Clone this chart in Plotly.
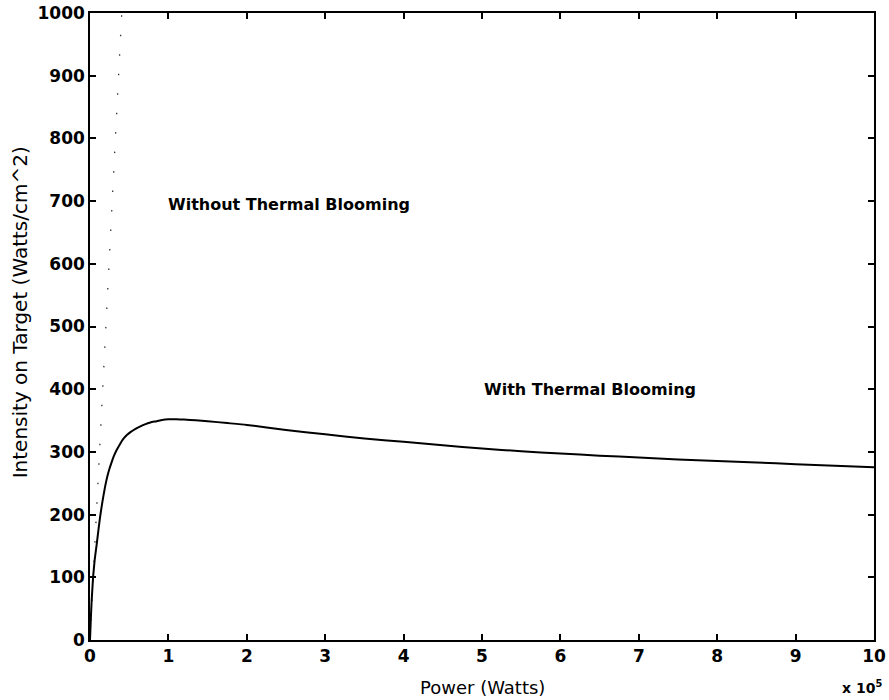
import plotly.graph_objects as go

# Power in units of 10^5 W
power_with = [0, 0.01, 0.02, 0.04, 0.06, 0.085, 0.11, 0.13, 0.15, 0.17, 0.19, 0.21, 0.23, 0.25,
              0.28, 0.30, 0.34, 0.38, 0.42, 0.47, 0.52, 0.57, 0.63, 0.70, 0.77, 0.85, 0.92,
              1.0, 1.1, 1.2, 1.35, 1.5, 1.75, 2.0, 2.5, 3.0, 3.5, 4.0, 4.5, 5.0, 5.5, 6.0,
              6.5, 7.0, 7.5, 8.0, 8.5, 9.0, 9.5, 10.0]
intensity_with = [0, 32, 60, 101, 128, 152, 178, 197, 214, 229, 243, 255, 265, 274,
                  285, 292, 303, 312, 320, 327, 332, 336, 340, 344, 347, 349, 351,
                  352, 352, 351.5, 350.5, 349, 346, 343, 335, 328, 321.5, 316, 310.5, 305.5, 301, 297.5,
                  294, 291, 288, 285.5, 283, 280.5, 278, 275.5]

power_without = [0, 0.405]
intensity_without = [0, 1000]

x_ticks = list(range(0, 11))
y_ticks = list(range(0, 1001, 100))

label_without = "Without Thermal Blooming"
label_with = "With Thermal Blooming"
x_title = "Power (Watts)"
y_title = "Intensity on Target (Watts/cm^2)"

fig = go.Figure()
fig.add_trace(go.Scatter(x=power_without, y=intensity_without, mode="lines",
                         line=dict(color="#333", width=1.3, dash="1.5px,18px"),
                         showlegend=False, hoverinfo="skip"))
fig.add_trace(go.Scatter(x=power_with, y=intensity_with, mode="lines",
                         line=dict(color="black", width=2, shape="spline", smoothing=0.5),
                         showlegend=False))

fig.update_xaxes(range=[0, 10], tickvals=x_ticks, ticktext=[str(v) for v in x_ticks],
                 showline=True, linecolor="black", linewidth=1.5, mirror="ticks",
                 ticks="inside", ticklen=6, tickwidth=1.5, tickcolor="black",
                 showgrid=False, zeroline=False, automargin=False,
                 tickfont=dict(family="DejaVu Sans", size=17, color="black", weight="bold"))
fig.update_yaxes(range=[0, 1000], tickvals=y_ticks, ticktext=[str(v) for v in y_ticks],
                 showline=True, linecolor="black", linewidth=1.5, mirror="ticks",
                 ticks="inside", ticklen=6, tickwidth=1.5, tickcolor="black",
                 showgrid=False, zeroline=False, automargin=False,
                 tickfont=dict(family="DejaVu Sans", size=17, color="black", weight="bold"))

annfont = dict(family="DejaVu Sans", size=16, color="black", weight="bold")
fig.add_annotation(x=0.97, y=694, text=label_without, showarrow=False,
                   xanchor="left", yanchor="middle", font=annfont)
fig.add_annotation(x=5.0, y=399, text=label_with, showarrow=False,
                   xanchor="left", yanchor="middle", font=annfont)
fig.add_annotation(x=0.5, y=-0.075, xref="paper", yref="paper", text=x_title,
                   showarrow=False, xanchor="center", yanchor="middle",
                   font=dict(family="DejaVu Sans", size=18, color="black"))
fig.add_annotation(x=-0.089, y=0.523, xref="paper", yref="paper", text=y_title,
                   showarrow=False, xanchor="center", yanchor="middle", textangle=-90,
                   font=dict(family="DejaVu Sans", size=20, color="black"))
fig.add_annotation(x=1.013, y=-0.075, xref="paper", yref="paper",
                   text="x 10<sup>5</sup>", showarrow=False, xanchor="right", yanchor="middle",
                   font=dict(family="DejaVu Sans", size=14, color="black", weight="bold"))

fig.update_layout(width=889, height=700, paper_bgcolor="white", plot_bgcolor="white",
                  margin=dict(l=90, r=15, t=13, b=60))

fig.write_html("out.html")
